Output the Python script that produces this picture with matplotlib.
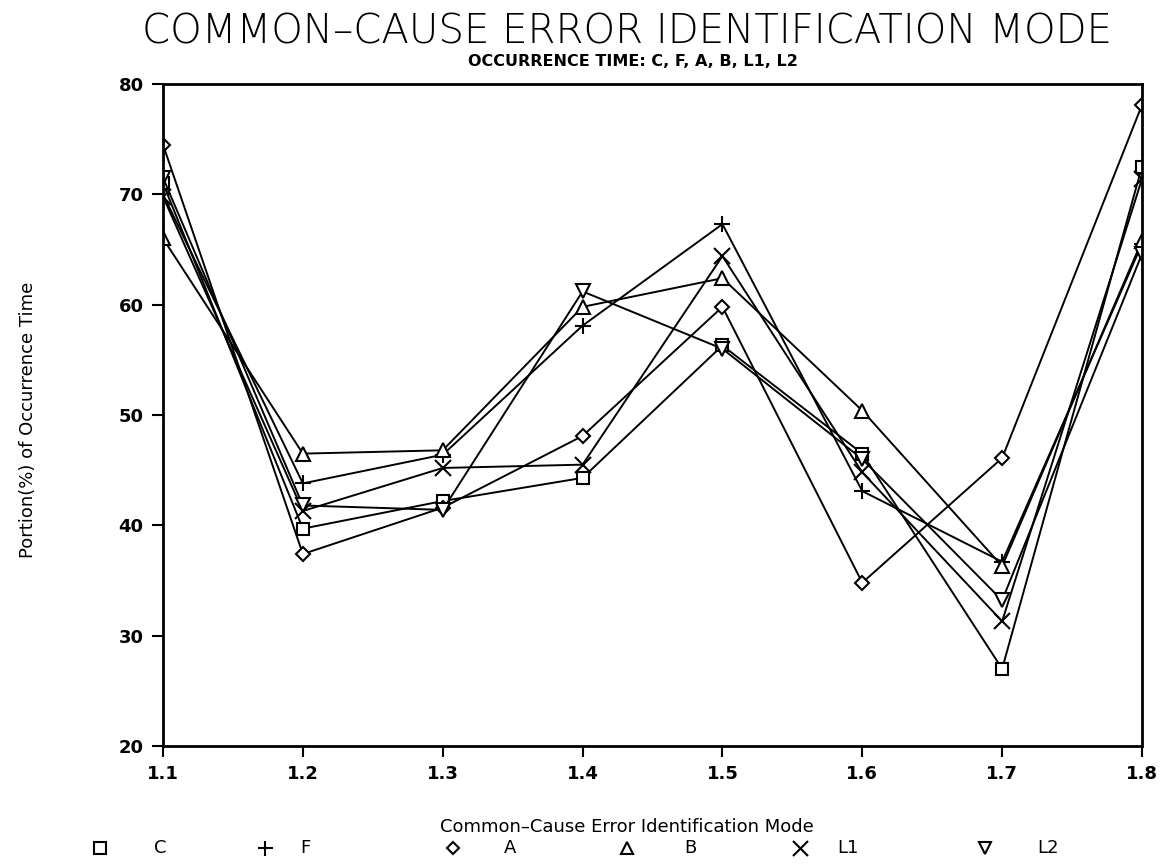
import matplotlib
matplotlib.use("Agg")
import matplotlib.pyplot as plt
from matplotlib.lines import Line2D

modes = [1.1, 1.2, 1.3, 1.4, 1.5, 1.6, 1.7, 1.8]
tick_labels = ["1.1", "1.2", "1.3", "1.4", "1.5", "1.6", "1.7", "1.8"]

C = [71.0, 39.7, 42.2, 44.3, 56.3, 46.5, 27.0, 72.5]
F = [70.0, 43.8, 46.4, 58.1, 67.3, 43.1, 36.7, 65.5]
A = [74.5, 37.4, 41.6, 48.1, 59.8, 34.8, 46.1, 78.1]
B = [66.0, 46.5, 46.8, 59.8, 62.4, 50.4, 36.3, 65.8]
L1 = [69.8, 41.3, 45.2, 45.5, 64.4, 44.8, 31.3, 71.4]
L2 = [71.5, 41.8, 41.4, 61.2, 56.0, 46.0, 33.2, 64.6]

series_names = ["C", "F", "A", "B", "L1", "L2"]
series_vals = [C, F, A, B, L1, L2]
markers = ["s", "+", "D", "^", "x", "v"]
msizes = [9, 12, 7, 10, 12, 10]

fig = plt.figure(figsize=(11.72, 8.64), dpi=100)
ax = fig.add_axes([163/1172, 1 - 746/864, (1142-163)/1172, (746-84)/864])

for name, vals, m, ms in zip(series_names, series_vals, markers, msizes):
    ax.plot(modes, vals, color="black", lw=1.4, marker=m, ms=ms,
            mfc="white", mec="black", mew=1.5, label=name)

ax.set_xlim(1.1, 1.8)
ax.set_ylim(20, 80)
ax.set_xticks(modes)
ax.set_xticklabels(tick_labels)
ax.set_yticks([20, 30, 40, 50, 60, 70, 80])
for s in ax.spines.values():
    s.set_linewidth(2.0)
ax.tick_params(direction="out", length=8, width=1.5, labelsize=13, pad=6)
for lbl in ax.get_xticklabels() + ax.get_yticklabels():
    lbl.set_fontweight("bold")

fig.text(0.535, 1 - 32/864, "COMMON\u2013CAUSE ERROR IDENTIFICATION MODE",
         ha="center", va="center", fontsize=29, fontweight="light",
         fontfamily="DejaVu Sans")
fig.text(0.54, 1 - 61/864, "OCCURRENCE TIME: C, F, A, B, L1, L2",
         ha="center", va="center", fontsize=11.5, fontweight="bold")
fig.text(0.024, 1 - 420/864, "Portion(%) of Occurrence Time",
         ha="center", va="center", rotation=90, fontsize=13)
fig.text(0.535, 1 - 827/864, "Common\u2013Cause Error Identification Mode",
         ha="center", va="center", fontsize=13)

# manual legend row
legend_y = 1 - 848/864
marker_x = [100, 265, 453, 627, 800, 985]
label_x = [160, 305, 510, 690, 848, 1048]
for m, ms, name, mx, lx in zip(markers, msizes, series_names, marker_x, label_x):
    fig.add_artist(Line2D([mx/1172], [legend_y], ls="none", marker=m,
                          ms=ms*0.9, mfc="white", mec="black", mew=1.5,
                          transform=fig.transFigure))
    fig.text(lx/1172, legend_y, name, ha="center", va="center", fontsize=13)

fig.savefig("out.png", dpi=100)
